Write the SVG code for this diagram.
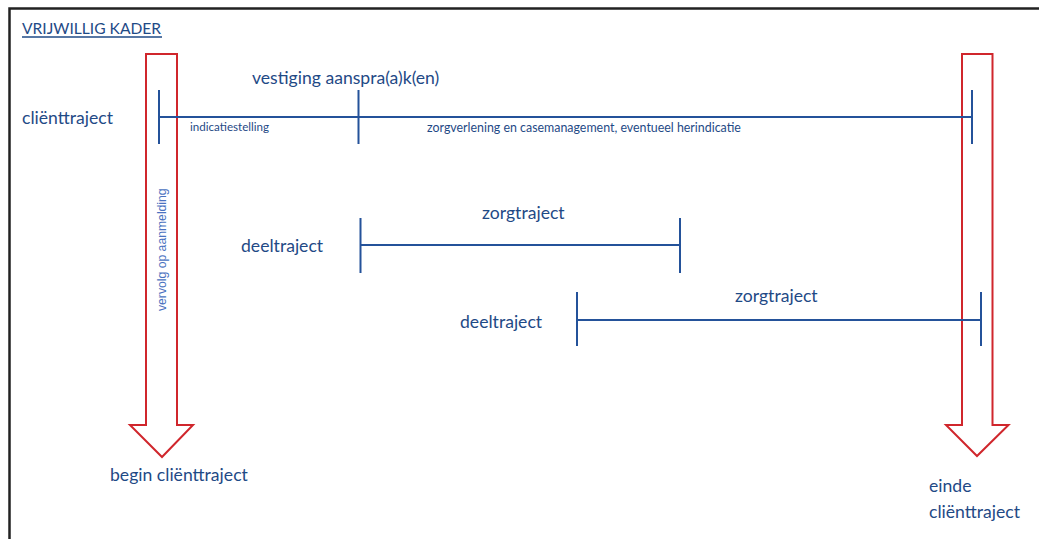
<svg xmlns="http://www.w3.org/2000/svg" width="1039" height="539" viewBox="0 0 1039 539">
<style>
.t{font-family:Lato,"Open Sans",sans-serif;fill:#1f4a86}
.big{font-size:17.6px}
.small{font-size:11.6px}
.bl{stroke:#24529a;stroke-width:2;fill:none}
.arr{fill:#fff;stroke:#d0262c;stroke-width:2}
</style>
<rect width="1039" height="539" fill="#fff"/>
<path d="M9.5 539 V8.5 H1039" fill="none" stroke="#222" stroke-width="2.5"/>
<g id="title">
<text class="t" x="22" y="34" font-size="15.6">VRIJWILLIG KADER</text>
<line x1="22" y1="37" x2="162" y2="37" stroke="#1f4a86" stroke-width="1.3"/>
</g>
<g id="arrow-begin">
<path class="arr" d="M146 54 H177 V425 H193 L162 457 L130 425 H146 Z"/>
<text x="0" y="0" transform="translate(166 311) rotate(-90)" font-family="Liberation Sans,Arial,sans-serif" font-size="12.2" fill="#4a72c0">vervolg op aanmelding</text>
</g>
<g id="arrow-end">
<path class="arr" d="M962 54 H992.5 V425 H1008.5 L977 456 L946 425 H962 Z"/>
</g>
<g id="connectors">
<path class="bl" d="M159 117 H972 M159 90 V144 M358.5 90 V144 M972 90 V144"/>
<path class="bl" d="M360.5 245 H680 M360.5 218 V273 M680 218 V273"/>
<path class="bl" d="M577 320 H981 M577 292 V346 M981 292 V346"/>
</g>
<g id="clienttraject">
<text class="t big" x="22" y="124">cliënttraject</text>
<text class="t big" x="252" y="84">vestiging aanspra(a)k(en)</text>
<text class="t small" x="190" y="131">indicatiestelling</text>
<text class="t" font-size="12.4" x="427" y="132">zorgverlening en casemanagement, eventueel herindicatie</text>
</g>
<g id="deeltraject1">
<text class="t big" x="241" y="252">deeltraject</text>
<text class="t big" x="482" y="219">zorgtraject</text>
</g>
<g id="deeltraject2">
<text class="t big" x="460" y="328">deeltraject</text>
<text class="t big" x="735" y="302">zorgtraject</text>
</g>
<g id="begin">
<text class="t big" x="110" y="481">begin cliënttraject</text>
</g>
<g id="einde">
<text class="t big" x="929" y="492">einde</text>
<text class="t big" x="929" y="518">cliënttraject</text>
</g>
</svg>
